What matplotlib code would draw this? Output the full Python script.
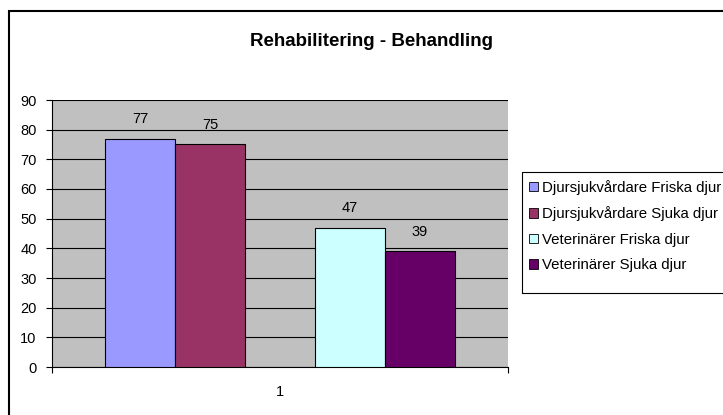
import numpy as np
import matplotlib.pyplot as plt
from matplotlib.patches import Rectangle

series = ['Djursjukvårdare Friska djur', 'Djursjukvårdare Sjuka djur',
          'Veterinärer Friska djur', 'Veterinärer Sjuka djur']
values = [77, 75, 47, 39]
colors = ['#9999FF', '#993366', '#CCFFFF', '#660066']
category = '1'

plt.rcParams['font.family'] = ['Liberation Sans', 'DejaVu Sans']

fig = plt.figure(figsize=(7.23, 4.15), dpi=100)
# outer chart border (right and bottom edges are cut off in the original)
fig.patches.append(Rectangle((8.5 / 723, -0.1), 1.2, 1 - 11.5 / 415 + 0.1,
                             transform=fig.transFigure, fill=False,
                             edgecolor='black', linewidth=1.5))

ax = fig.add_axes([52 / 723, 1 - 367 / 415, 456 / 723, 267 / 415])
ax.set_facecolor('#C0C0C0')

# 5 slots in the cluster, middle one empty (as in the original sheet)
w = 70 / 456
offsets = [-2, -1, 1, 2]
for off, v, c, name in zip(offsets, values, colors, series):
    x = 0.5 + off * w
    ax.bar(x, v, width=w, color=c, edgecolor='black', linewidth=0.8,
           label=name, zorder=3)
    ax.annotate(str(v), (x, v), xytext=(0, 9), textcoords='offset points',
                ha='center', va='bottom', fontsize=10.5)

ax.set_xlim(0, 1)
ax.set_ylim(0, 90)
ax.set_yticks(range(0, 91, 10))
ax.yaxis.grid(True, color='black', linewidth=0.8, zorder=0)
ax.set_axisbelow(True)
ax.tick_params(axis='y', direction='out', length=4, labelsize=10.5, pad=7)
ax.set_xticks([0, 1])
ax.set_xticklabels(['', ''])
ax.tick_params(axis='x', direction='out', length=4)
ax.text(0.5, -0.093, category, transform=ax.transAxes, ha='center', va='center',
        fontsize=10.5)
for s in ['top', 'right']:
    ax.spines[s].set_visible(False)
ax.spines['left'].set_linewidth(0.8)
ax.spines['bottom'].set_linewidth(0.8)

fig.text(372 / 723, 1 - 41 / 415, 'Rehabilitering - Behandling', ha='center',
         va='center', fontsize=13.5, fontweight='bold')

# legend frame drawn separately (taller bottom margin than top, like Excel)
fig.patches.append(Rectangle((522 / 723, 1 - 293 / 415), 1.0, 121 / 415,
                             transform=fig.transFigure, fill=False,
                             edgecolor='black', linewidth=0.8))
leg = fig.legend(loc='upper left', bbox_to_anchor=(529 / 723, 1 - 180 / 415),
                 fontsize=10.8, frameon=False,
                 handlelength=0.6, handleheight=0.6, handletextpad=0.3,
                 labelspacing=0.76, borderpad=0, borderaxespad=0)
for h in leg.legend_handles:
    h.set_edgecolor('black')
    h.set_linewidth(0.6)

fig.savefig('out.png', dpi=100)
